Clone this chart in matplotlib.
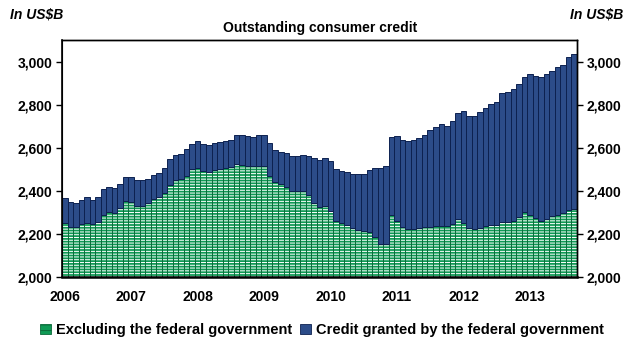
import matplotlib
matplotlib.use('agg')
import matplotlib.pyplot as plt
from matplotlib.patches import Patch
import numpy as np

# monthly, Jan 2006 - Sep 2013, US$ billions
total = [2366, 2350, 2345, 2358, 2369, 2358, 2369, 2408, 2420, 2415, 2433, 2465,
         2465, 2450, 2450, 2457, 2475, 2485, 2507, 2549, 2565, 2571, 2594, 2618,
         2630, 2618, 2613, 2622, 2627, 2630, 2636, 2657, 2657, 2654, 2649, 2657,
         2661, 2622, 2588, 2580, 2576, 2560, 2560, 2568, 2563, 2552, 2541, 2553,
         2539, 2503, 2492, 2487, 2480, 2476, 2476, 2497, 2506, 2506, 2515, 2649,
         2655, 2638, 2633, 2636, 2644, 2657, 2680, 2695, 2708, 2703, 2725, 2759,
         2771, 2748, 2748, 2764, 2784, 2801, 2810, 2852, 2860, 2872, 2896, 2927,
         2941, 2933, 2927, 2941, 2958, 2975, 2983, 3022, 3037]
excl_fed = [2252, 2233, 2233, 2244, 2252, 2246, 2257, 2288, 2303, 2299, 2322, 2353,
            2350, 2331, 2331, 2342, 2361, 2370, 2392, 2429, 2448, 2456, 2471, 2503,
            2504, 2490, 2489, 2498, 2501, 2504, 2510, 2526, 2520, 2517, 2514, 2517,
            2517, 2471, 2439, 2431, 2420, 2401, 2397, 2397, 2381, 2342, 2324, 2329,
            2306, 2262, 2251, 2243, 2226, 2219, 2212, 2208, 2184, 2153, 2153, 2288,
            2259, 2231, 2223, 2223, 2228, 2231, 2231, 2239, 2236, 2236, 2247, 2267,
            2250, 2228, 2223, 2228, 2239, 2242, 2242, 2257, 2257, 2262, 2278, 2304,
            2290, 2273, 2259, 2267, 2282, 2290, 2298, 2312, 2315]
years = ['2006', '2007', '2008', '2009', '2010', '2011', '2012', '2013']
yticks = [2000, 2200, 2400, 2600, 2800, 3000]

green = '#0f9a55'
green_edge = '#0b6b3a'
blue = '#2c4c89'
blue_edge = '#0d2150'

plt.rcParams['font.family'] = ['Liberation Sans', 'DejaVu Sans']
plt.rcParams['hatch.linewidth'] = 0.7

fig = plt.figure(figsize=(6.25, 3.43), dpi=100)
ax1 = fig.add_axes([0.0992, 0.1924, 0.8240, 0.6910])

x = np.arange(len(total))
base = 2000
fed = np.array(total) - np.array(excl_fed)
excl = np.array(excl_fed) - base

# green part: hatched with white, then a dark outline on top
ax1.bar(x, excl, bottom=base, width=1.0, color=green, edgecolor='white',
        linewidth=0, hatch='------')
ax1.bar(x, excl, bottom=base, width=1.0, fill=False, edgecolor=green_edge, linewidth=0.6)
ax1.bar(x, fed, bottom=excl_fed, width=1.0, color=blue, edgecolor=blue_edge, linewidth=0.7)

ax1.set_xlim(-0.5, len(total) - 0.5)
ax1.set_ylim(2000, 3100)
ax1.set_yticks(yticks)
ax1.set_yticklabels(['{:,}'.format(v) for v in yticks], fontsize=10, fontweight='bold')
ax1.set_xticks(np.arange(len(years)) * 12)
ax1.set_xticklabels(years, fontsize=10, fontweight='bold')
ax1.tick_params(axis='x', length=0, pad=9)
ax1.tick_params(axis='y', direction='out', length=4, width=1.0, pad=3)

ax2 = ax1.twinx()
ax2.set_ylim(2000, 3100)
ax2.set_yticks(yticks)
ax2.set_yticklabels(['{:,}'.format(v) for v in yticks], fontsize=10, fontweight='bold')
ax2.tick_params(axis='y', direction='out', length=4, width=1.0, pad=3)

ax1.spines['bottom'].set_linewidth(1.8)
ax1.spines['left'].set_linewidth(1.2)
for a in (ax1, ax2):
    a.spines['top'].set_linewidth(1.0)
    a.spines['right'].set_linewidth(1.0)

fig.text(0.016, 0.958, 'In US$B', fontsize=10, fontweight='bold', style='italic', va='center')
fig.text(0.998, 0.958, 'In US$B', fontsize=10, fontweight='bold', style='italic', va='center', ha='right')
fig.text(0.512, 0.918, 'Outstanding consumer credit', fontsize=10, fontweight='bold', ha='center', va='center')

handles = [Patch(facecolor=green, edgecolor=green_edge, hatch='---', linewidth=0.6),
           Patch(facecolor=blue, edgecolor=blue_edge, linewidth=0.6)]
labels = ['Excluding the federal government', 'Credit granted by the federal government']
fig.legend(handles, labels, loc='center', bbox_to_anchor=(0.515, 0.038), ncol=2, frameon=False,
           prop={'size': 10.5, 'weight': 'bold'}, handlelength=0.75, handleheight=0.75,
           handletextpad=0.3, columnspacing=0.6, borderpad=0)

fig.savefig('out.png', dpi=100)
